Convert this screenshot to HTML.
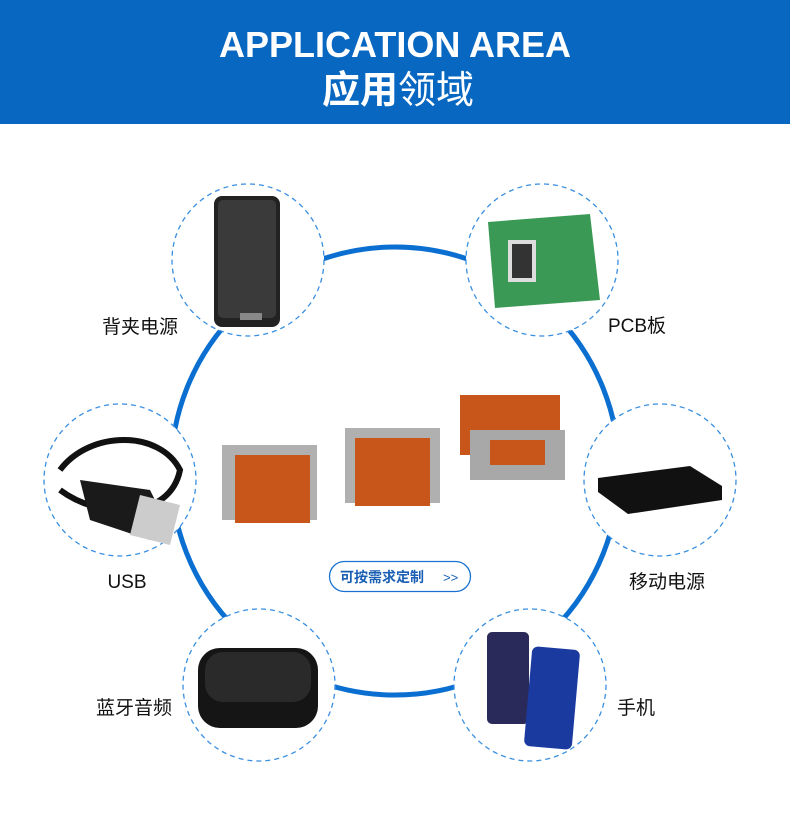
<!DOCTYPE html>
<html><head><meta charset="utf-8"><style>
body{margin:0;width:790px;height:814px;background:#fff;overflow:hidden;font-family:"Liberation Sans","Noto Sans CJK SC",sans-serif}
</style></head><body>
<svg width="790" height="814" viewBox="0 0 790 814" xmlns="http://www.w3.org/2000/svg">
<rect x="0" y="0" width="790" height="124" fill="#0767c1"/>
<text x="395" y="57" text-anchor="middle" fill="#fff" font-family="Liberation Sans,sans-serif" font-weight="bold" font-size="36">APPLICATION AREA</text>
<text x="398" y="103" text-anchor="middle" fill="#fff" font-family="Liberation Sans,Noto Sans CJK SC,sans-serif" font-size="38"><tspan font-weight="bold">应用</tspan>领域</text>
<circle cx="395" cy="471" r="224" fill="none" stroke="#0a6fd0" stroke-width="5"/>
<g fill="#fff" stroke="#3a8fe0" stroke-width="1.3" stroke-dasharray="5,4">
<circle cx="248" cy="260" r="76"/>
<circle cx="542" cy="260" r="76"/>
<circle cx="120" cy="480" r="76"/>
<circle cx="660" cy="480" r="76"/>
<circle cx="259" cy="685" r="76"/>
<circle cx="530" cy="685" r="76"/>
</g>
<rect x="214" y="196" width="66" height="131" rx="8" fill="#222"/>
<rect x="218" y="200" width="58" height="118" rx="5" fill="#3a3a3a"/>
<rect x="240" y="313" width="22" height="7" fill="#888"/>
<polygon points="488,222 590,214 600,300 495,308" fill="#3a9a55"/>
<rect x="508" y="240" width="28" height="42" fill="#ddd"/>
<rect x="512" y="244" width="20" height="34" fill="#333"/>
<path d="M60,470 C90,430 160,430 180,470 C170,520 100,520 60,490" fill="none" stroke="#111" stroke-width="6"/>
<polygon points="80,480 150,490 160,510 150,540 90,520" fill="#1a1a1a"/>
<polygon points="140,495 180,505 170,545 130,535" fill="#ccc"/>
<polygon points="598,478 690,466 722,486 722,500 628,514 598,492" fill="#111"/>
<rect x="198" y="648" width="120" height="80" rx="22" fill="#151515"/>
<rect x="205" y="652" width="106" height="50" rx="18" fill="#2a2a2a"/>
<rect x="487" y="632" width="42" height="92" rx="5" fill="#2a2a5a"/>
<rect x="528" y="648" width="48" height="100" rx="6" fill="#1a3aa0" transform="rotate(5 552 698)"/>
<g>
<rect x="222" y="445" width="95" height="75" fill="#b0b0b0"/>
<rect x="235" y="455" width="75" height="68" fill="#c8561a"/>
<rect x="345" y="428" width="95" height="75" fill="#b0b0b0"/>
<rect x="355" y="438" width="75" height="68" fill="#c8561a"/>
<rect x="460" y="395" width="100" height="60" fill="#c8561a"/>
<rect x="470" y="430" width="95" height="50" fill="#a8a8a8"/>
<rect x="490" y="440" width="55" height="25" fill="#c8561a"/>
</g>
<rect x="329.5" y="561.5" width="141" height="30" rx="15" fill="#fff" stroke="#1a73d0" stroke-width="1.3"/>
<text x="340" y="582" fill="#1a5fb4" font-size="14" font-weight="bold" font-family="Liberation Sans,Noto Sans CJK SC,sans-serif">可按需求定制</text>
<text x="443" y="582" fill="#1a5fb4" font-size="13" font-family="Liberation Sans,sans-serif">&gt;&gt;</text>
<g fill="#111" font-size="19" font-family="Liberation Sans,Noto Sans CJK SC,sans-serif" text-anchor="middle">
<text x="140" y="333">背夹电源</text>
<text x="637" y="332">PCB板</text>
<text x="127" y="588">USB</text>
<text x="667" y="588">移动电源</text>
<text x="134" y="714">蓝牙音频</text>
<text x="636" y="714">手机</text>
</g>
</svg>
</body></html>
